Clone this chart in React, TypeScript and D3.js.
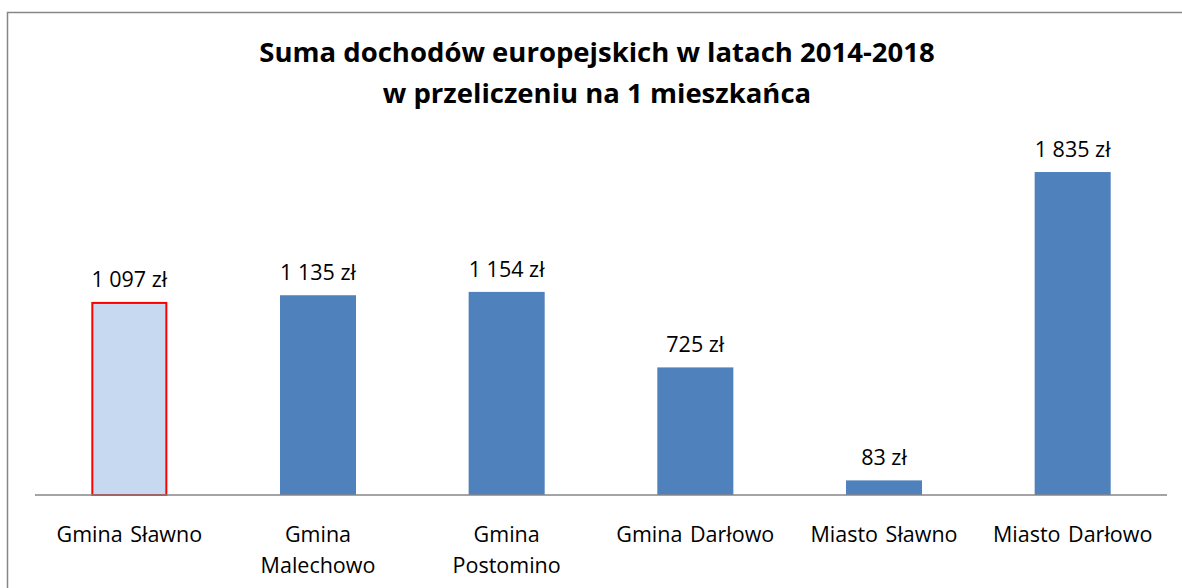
import React from "react";
import * as d3 from "d3";

const categories = [
  "Gmina Sławno",
  "Gmina\nMalechowo",
  "Gmina\nPostomino",
  "Gmina Darłowo",
  "Miasto Sławno",
  "Miasto Darłowo",
];
const values = [1097, 1135, 1154, 725, 83, 1835];
const labels = ["1 097 zł", "1 135 zł", "1 154 zł", "725 zł", "83 zł", "1 835 zł"];
const highlighted = [true, false, false, false, false, false];
const titleLines = [
  "Suma dochodów europejskich w latach 2014-2018",
  "w przeliczeniu na 1 mieszkańca",
];

const W = 1182;
const H = 588;
const FONT = "'Open Sans', Lato, 'Liberation Sans', sans-serif";

export default function App() {
  const x = d3.scaleBand<number>().domain(d3.range(categories.length)).range([35, 1167]).padding(0);
  const y = d3.scaleLinear().domain([0, 2000]).range([495, 143]);
  const barW = x.bandwidth() * 0.403;

  return (
    <svg width={W} height={H} style={{ position: "absolute", left: 0, top: 0, background: "#fff" }}>
      <rect x={7.5} y={12.5} width={W + 20} height={H + 20} fill="#fff" stroke="#868686" strokeWidth={1.5} />
      {titleLines.map((t, i) => (
        <text key={i} x={597} y={62 + i * 41} textAnchor="middle" fontFamily={FONT} fontWeight="bold" fontSize={27.5} fill="#000">
          {t}
        </text>
      ))}
      {values.map((v, i) => {
        const cx = x(i)! + x.bandwidth() / 2;
        const hl = highlighted[i];
        return (
          <g key={i}>
            <rect
              x={cx - barW / 2 + (hl ? 1 : 0)}
              y={y(v) + (hl ? 1 : 0)}
              width={barW - (hl ? 2 : 0)}
              height={y(0) - y(v) - (hl ? 1 : 0)}
              fill={hl ? "#C6D9F1" : "#4F81BD"}
              stroke={hl ? "#FF0000" : "none"}
              strokeWidth={2}
            />
            <text x={cx} y={y(v) - 15} textAnchor="middle" fontFamily={FONT} fontSize={21.5} fill="#000">
              {labels[i]}
            </text>
          </g>
        );
      })}
      <line x1={35} x2={1167} y1={495} y2={495} stroke="#868686" strokeWidth={1.5} />
      {categories.map((c, i) => {
        const cx = x(i)! + x.bandwidth() / 2;
        return (
          <text key={i} x={cx} textAnchor="middle" fontFamily={FONT} fontSize={21.5} fill="#000" style={{ wordSpacing: "2px" }}>
            {c.split("\n").map((line, j) => (
              <tspan key={j} x={cx} y={542 + j * 31}>
                {line}
              </tspan>
            ))}
          </text>
        );
      })}
    </svg>
  );
}
